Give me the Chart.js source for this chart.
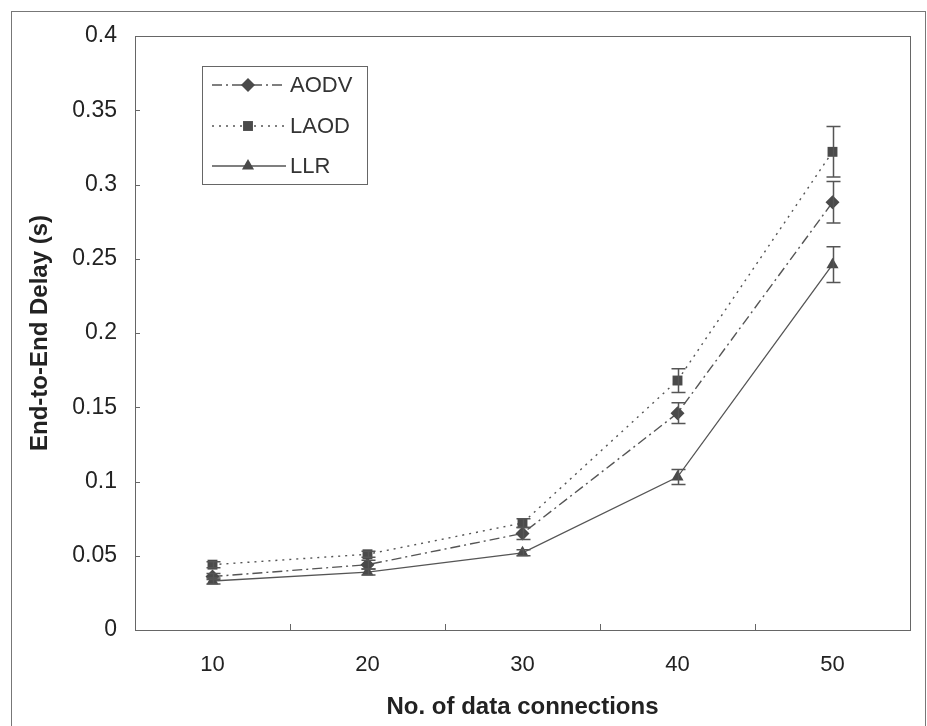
<!DOCTYPE html>
<html>
<head>
<meta charset="utf-8">
<script src="https://cdn.jsdelivr.net/npm/chart.js@4/dist/chart.umd.min.js"></script>
<style>
  html, body { margin: 0; padding: 0; background: #fff; }
  #wrap { width: 927px; height: 726px; position: relative; }
</style>
</head>
<body>
<div id="wrap"><canvas id="delay-chart" width="927" height="726"></canvas></div>
<script>
// Data
const connections = ['10', '20', '30', '40', '50'];
const aodvDelay = [0.036, 0.044, 0.065, 0.146, 0.288];
const aodvErr   = [0.002, 0.003, 0.004, 0.007, 0.014];
const laodDelay = [0.044, 0.051, 0.072, 0.168, 0.322];
const laodErr   = [0.002, 0.002, 0.003, 0.008, 0.017];
const llrDelay  = [0.033, 0.039, 0.052, 0.103, 0.246];
const llrErr    = [0.002, 0.002, 0.002, 0.005, 0.012];
const yTicks = [0, 0.05, 0.1, 0.15, 0.2, 0.25, 0.3, 0.35, 0.4];

const ink = '#4a4a4a';
const lineInk = '#555';
const font = '"Liberation Sans", Arial, sans-serif';

// frame, inner ticks, plot box, error bars and legend
const decorPlugin = {
    id: 'decor',
    beforeDraw(chart) {
        const c = chart.ctx;
        c.save();
        c.fillStyle = '#fff';
        c.fillRect(0, 0, chart.width, chart.height);
        c.strokeStyle = '#777';
        c.lineWidth = 1;
        c.strokeRect(11.5, 11.5, 914, 730);
        c.restore();
    },
    afterDatasetsDraw(chart) {
        const c = chart.ctx;
        const a = chart.chartArea;
        const xs = chart.scales.x, ys = chart.scales.y;
        c.save();
        c.strokeStyle = '#666';
        c.lineWidth = 1;
        c.strokeRect(Math.round(a.left) + 0.5, Math.round(a.top) + 0.5,
            Math.round(a.right - a.left), Math.round(a.bottom - a.top));
        // y inner ticks
        yTicks.forEach(v => {
            const y = Math.round(ys.getPixelForValue(v)) + 0.5;
            c.beginPath();
            c.moveTo(a.left, y);
            c.lineTo(a.left + 5, y);
            c.stroke();
        });
        // x inner ticks between categories
        for (let i = 1; i < connections.length; i++) {
            const x = Math.round((xs.getPixelForValue(i - 1) + xs.getPixelForValue(i)) / 2) + 0.5;
            c.beginPath();
            c.moveTo(x, a.bottom);
            c.lineTo(x, a.bottom - 6);
            c.stroke();
        }
        // error bars
        c.strokeStyle = '#555';
        c.lineWidth = 1.5;
        chart.data.datasets.forEach(ds => {
            ds.data.forEach((v, i) => {
                const e = ds.errors[i];
                const x = Math.round(xs.getPixelForValue(i)) + 0.5;
                const y1 = ys.getPixelForValue(v + e);
                const y2 = ys.getPixelForValue(v - e);
                c.beginPath();
                c.moveTo(x, y1); c.lineTo(x, y2);
                c.moveTo(x - 7, y1); c.lineTo(x + 7, y1);
                c.moveTo(x - 7, y2); c.lineTo(x + 7, y2);
                c.stroke();
            });
        });
        c.restore();
    },
    afterDraw(chart) {
        const c = chart.ctx;
        c.save();
        c.strokeStyle = '#666';
        c.lineWidth = 1;
        c.strokeRect(202.5, 66.5, 165, 118);
        const rows = [85, 126, 166];
        chart.data.datasets.forEach((ds, i) => {
            const y = rows[i];
            c.strokeStyle = lineInk;
            c.lineWidth = 1.3;
            c.setLineDash(ds.borderDash || []);
            c.beginPath();
            c.moveTo(212, y); c.lineTo(286, y);
            c.stroke();
            c.setLineDash([]);
            c.fillStyle = ink;
            c.strokeStyle = ink;
            Chart.helpers.drawPoint(c, {
                pointStyle: ds.pointStyle, radius: ds.pointRadius,
                rotation: 0, borderWidth: 0
            }, 248, y);
            c.fillStyle = '#333';
            c.font = '22px ' + font;
            c.textBaseline = 'middle';
            c.fillText(ds.label, 290, y + 1);
        });
        c.restore();
    }
};

new Chart(document.getElementById('delay-chart'), {
    type: 'line',
    data: {
        labels: connections,
        datasets: [{
            label: 'AODV',
            data: aodvDelay,
            errors: aodvErr,
            borderColor: lineInk,
            borderWidth: 1.4,
            borderDash: [10, 4, 2, 4],
            pointStyle: 'rectRot',
            pointRadius: 7,
            pointBackgroundColor: ink,
            pointBorderWidth: 0
        }, {
            label: 'LAOD',
            data: laodDelay,
            errors: laodErr,
            borderColor: lineInk,
            borderWidth: 1.4,
            borderDash: [2, 5],
            pointStyle: 'rect',
            pointRadius: 7,
            pointBackgroundColor: ink,
            pointBorderWidth: 0
        }, {
            label: 'LLR',
            data: llrDelay,
            errors: llrErr,
            borderColor: lineInk,
            borderWidth: 1.3,
            pointStyle: 'triangle',
            pointRadius: 7,
            pointBackgroundColor: ink,
            pointBorderWidth: 0
        }]
    },
    options: {
        responsive: false,
        animation: false,
        layout: { padding: { left: 24, right: 17, top: 36, bottom: 4 } },
        plugins: {
            legend: { display: false },
            tooltip: { enabled: false }
        },
        elements: { line: { tension: 0 } },
        scales: {
            x: {
                type: 'category',
                offset: true,
                grid: { display: false, drawTicks: false },
                border: { display: false },
                ticks: {
                    color: '#222',
                    padding: 22,
                    font: { family: font, size: 22 }
                },
                title: {
                    display: true,
                    text: 'No. of data connections',
                    color: '#222',
                    padding: { top: 4, bottom: 0 },
                    font: { family: font, size: 24, weight: 'bold' }
                },
                afterFit(scale) { scale.height = 92; }
            },
            y: {
                min: 0,
                max: 0.4,
                grid: { display: false, drawTicks: false },
                border: { display: false },
                ticks: {
                    stepSize: 0.05,
                    color: '#222',
                    padding: 18,
                    font: { family: font, size: 23 },
                    callback: (v) => String(Math.round(v * 100) / 100)
                },
                title: {
                    display: true,
                    text: 'End-to-End Delay (s)',
                    color: '#222',
                    padding: { top: 2, bottom: 4 },
                    font: { family: font, size: 24, weight: 'bold' }
                },
                afterFit(scale) { scale.width = 111; }
            }
        }
    },
    plugins: [decorPlugin]
});
</script>
</body>
</html>
